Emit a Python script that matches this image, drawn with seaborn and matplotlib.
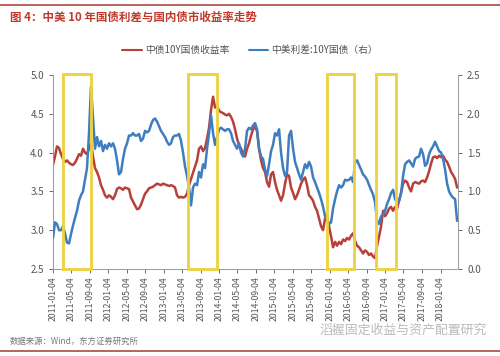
import numpy as np
import pandas as pd
import matplotlib
matplotlib.use("Agg")
import matplotlib.pyplot as plt
import matplotlib.dates as mdates
from matplotlib.patches import Rectangle
from matplotlib.lines import Line2D
import seaborn as sns

# 中债10Y国债收益率 (left axis), roughly every ~13 days from 2011-01-04
cn10y = [3.84, 3.95, 4.08, 4.06, 3.98, 3.92, 3.88, 3.90, 3.87, 3.85,
         3.84, 3.87, 3.92, 3.98, 3.96, 4.05, 4.00, 3.98, 4.05, 4.12,
         3.95, 3.80, 3.75, 3.68, 3.58, 3.52, 3.45, 3.42, 3.45, 3.43,
         3.40, 3.45, 3.53, 3.55, 3.54, 3.52, 3.55, 3.54, 3.53, 3.42,
         3.37, 3.32, 3.27, 3.28, 3.33, 3.40, 3.47, 3.50, 3.54, 3.55,
         3.56, 3.58, 3.60, 3.59, 3.58, 3.60, 3.59, 3.58, 3.57, 3.58,
         3.57, 3.55, 3.45, 3.42, 3.43, 3.42, 3.43, 3.47, 3.58, 3.66,
         3.74, 3.82, 3.90, 4.05, 4.08, 4.02, 4.06, 4.18, 4.32, 4.55,
         4.72, 4.58, 4.60, 4.54, 4.52, 4.51, 4.49, 4.48, 4.50, 4.46,
         4.40, 4.30, 4.18, 4.10, 4.05, 3.98, 3.95, 4.05, 4.12, 4.22,
         4.30, 4.33, 4.28, 4.05, 3.90, 3.80, 3.75, 3.62, 3.56, 3.72,
         3.75, 3.62, 3.52, 3.45, 3.38, 3.45, 3.60, 3.72, 3.70, 3.55,
         3.48, 3.40, 3.45, 3.52, 3.60, 3.65, 3.68, 3.58, 3.45, 3.42,
         3.38, 3.30, 3.25, 3.15, 3.05, 3.00, 3.15, 3.18, 3.05, 2.92,
         2.78, 2.85, 2.80, 2.85, 2.82, 2.88, 2.86, 2.90, 2.88, 2.93,
         2.96, 2.86, 2.80, 2.78, 2.74, 2.70, 2.74, 2.72, 2.68, 2.70,
         2.66, 2.64, 2.80, 2.92, 3.05, 3.25, 3.18, 3.22, 3.28, 3.30,
         3.25, 3.30, 3.28, 3.38, 3.48, 3.60, 3.64, 3.62, 3.55, 3.50,
         3.60, 3.62, 3.61, 3.60, 3.63, 3.64, 3.62, 3.68, 3.76, 3.86,
         3.94, 3.95, 3.93, 3.96, 3.94, 3.96, 3.91, 3.88, 3.82, 3.75,
         3.71, 3.66, 3.55]

# 中美利差:10Y国债 (right axis)
spread = [0.40, 0.60, 0.58, 0.50, 0.50, 0.55, 0.46, 0.34, 0.33, 0.45,
          0.56, 0.66, 0.75, 0.88, 0.95, 1.00, 1.15, 1.30, 1.75, 2.35,
          1.95, 1.55, 1.70, 1.58, 1.65, 1.52, 1.60, 1.55, 1.62, 1.58,
          1.62, 1.55, 1.40, 1.22, 1.25, 1.42, 1.55, 1.62, 1.72, 1.72,
          1.75, 1.72, 1.72, 1.74, 1.65, 1.68, 1.78, 1.76, 1.78, 1.86,
          1.92, 1.94, 1.90, 1.84, 1.78, 1.74, 1.70, 1.64, 1.60, 1.62,
          1.70, 1.72, 1.72, 1.74, 1.65, 1.50, 1.32, 1.20, 1.05, 0.82,
          1.05, 1.10, 1.08, 1.25, 1.18, 1.35, 1.30, 1.55, 1.75, 1.98,
          1.75, 1.60, 1.70, 1.80, 1.82, 1.80, 1.78, 1.80, 1.80, 1.75,
          1.65, 1.60, 1.55, 1.62, 1.50, 1.45, 1.55, 1.78, 1.82, 1.80,
          1.85, 1.88, 1.80, 1.55, 1.45, 1.42, 1.28, 1.20, 1.35, 1.52,
          1.60, 1.75, 1.72, 1.80, 1.50, 1.30, 1.20, 1.25, 1.72, 1.78,
          1.55, 1.38, 1.30, 1.22, 1.15, 1.25, 1.35, 1.30, 1.38, 1.32,
          1.18, 1.12, 1.05, 0.98, 0.90, 0.80, 0.68, 0.62, 0.58, 0.60,
          0.78, 0.90, 1.00, 1.08, 1.05, 1.08, 1.15, 1.14, 1.15, 1.18,
          1.12, 1.38, 1.40, 1.34, 1.28, 1.22, 1.19, 1.15, 1.08, 1.02,
          0.96, 0.86, 0.62, 0.58, 0.68, 0.70, 0.75, 0.84, 0.90, 0.98,
          1.02, 0.90, 0.86, 0.88, 0.98, 1.20, 1.35, 1.38, 1.40, 1.36,
          1.32, 1.42, 1.44, 1.45, 1.55, 1.48, 1.33, 1.36, 1.48, 1.54,
          1.58, 1.64, 1.58, 1.52, 1.50, 1.42, 1.28, 1.10, 1.00, 0.95,
          0.92, 0.90, 0.62]

start, end = "2011-01-04", "2018-04-23"
dates = pd.date_range(start, end, periods=len(cn10y))
df = pd.DataFrame({"date": dates, "cn10y": cn10y, "spread": spread})

# highlighted periods (yellow boxes)
boxes = [("2011-03-11", "2011-09-11"), ("2013-06-12", "2013-12-20"),
         ("2015-12-20", "2016-06-09"), ("2016-11-01", "2017-03-19")]

xticks = pd.date_range("2011-01-04", "2018-01-04", freq=pd.DateOffset(months=4))

sns.set_style("white")
plt.rcParams['font.family'] = ['Noto Sans CJK SC', 'DejaVu Sans']

red = "#B8403A"
blue = "#3F7DC1"
yellow = "#EED23C"

fig = plt.figure(figsize=(5, 3.56), dpi=100)
ax = fig.add_axes([53/500, 1-269/356, 405/500, 194/356])
ax2 = ax.twinx()

sns.lineplot(data=df, x="date", y="cn10y", ax=ax, color=red, lw=1.8)
sns.lineplot(data=df, x="date", y="spread", ax=ax2, color=blue, lw=1.8)

ax.set_ylim(2.5, 5.0)
ax2.set_ylim(0, 2.5)
ax.set_yticks(np.arange(2.5, 5.01, 0.5))
ax2.set_yticks(np.arange(0, 2.51, 0.5))
ax.yaxis.set_major_formatter(matplotlib.ticker.FormatStrFormatter('%.1f'))
ax2.yaxis.set_major_formatter(matplotlib.ticker.FormatStrFormatter('%.1f'))
ax.set_xlim(pd.Timestamp(start), pd.Timestamp("2018-04-29"))
ax.set_xticks(xticks)
ax.xaxis.set_major_formatter(mdates.DateFormatter('%Y-%m-%d'))
ax.set_xlabel("")
ax.set_ylabel("")
ax2.set_ylabel("")

for a in (ax, ax2):
    for s in a.spines.values():
        s.set_visible(False)
    a.tick_params(colors="#555555", labelsize=6.5, length=3, width=0.6)
ax.spines['left'].set_visible(True)
ax.spines['bottom'].set_visible(True)
ax2.spines['right'].set_visible(True)
ax.spines['left'].set_color("#8C9AB0")
ax.spines['bottom'].set_color("#999999")
ax2.spines['right'].set_color("#999999")
for s in (ax.spines['left'], ax.spines['bottom'], ax2.spines['right']):
    s.set_linewidth(0.7)
ax.tick_params(axis="y", left=True, labelsize=7)
ax2.tick_params(axis="y", right=True, labelsize=7)
ax.tick_params(axis="x", bottom=True, labelsize=6.3, rotation=90, pad=2)

for x0, x1 in boxes:
    d0 = mdates.date2num(pd.Timestamp(x0))
    d1 = mdates.date2num(pd.Timestamp(x1))
    ax2.add_patch(Rectangle((d0, 0.005), d1 - d0, 2.51, fill=False,
                            ec=yellow, lw=2.0, clip_on=False, zorder=5))

handles = [Line2D([], [], color=red, lw=1.5), Line2D([], [], color=blue, lw=1.5)]
fig.legend(handles, ["中债10Y国债收益率", "中美利差:10Y国债（右）"], loc="center",
           bbox_to_anchor=(0.5, 1-50/356), ncol=2, frameon=False, fontsize=7,
           handlelength=2.0, handletextpad=0.3, columnspacing=2.0, labelcolor="#555555")

# header / footer
fig.add_artist(Line2D([0, 1], [1-5/356, 1-5/356], color="#B55550", lw=1.3))
fig.add_artist(Line2D([0, 1], [1-351/356, 1-351/356], color="#B55550", lw=1.3))
fig.text(10/500, 1-17/356, "图 4：中美 10 年国债利差与国内债市收益率走势", color="#C0392B",
         fontsize=8.3, fontweight="bold", va="center", ha="left")
fig.text(10/500, 1-341/356, "数据来源：Wind，东方证券研究所", color="#777777",
         fontsize=6, va="center", ha="left")
fig.text(487/500, 1-330/356, "滔握固定收益与资产配置研究", color="#BBBBBB",
         fontsize=9.3, va="center", ha="right")

fig.savefig("out.png", dpi=100, facecolor="white")
